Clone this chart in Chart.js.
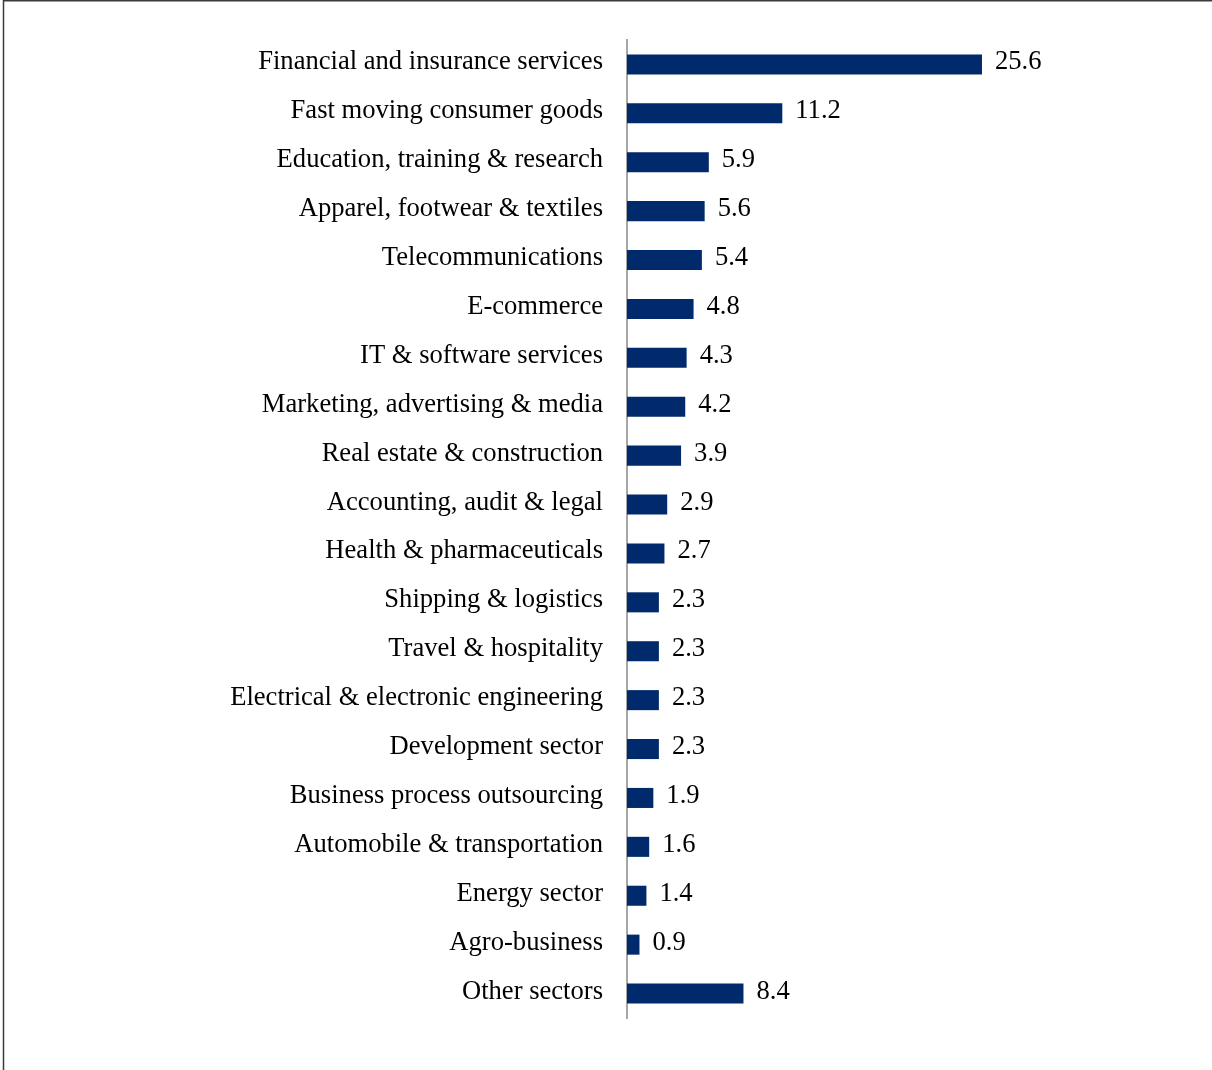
<!DOCTYPE html>
<html>
<head>
<meta charset="utf-8">
<script src="https://cdn.jsdelivr.net/npm/chart.js@4/dist/chart.umd.min.js"></script>
<style>
  body { margin: 0; background: #fff; }
  #wrap { width: 1212px; height: 1070px; position: relative; }
</style>
</head>
<body>
<div id="wrap"><canvas id="myChart" width="1212" height="1070"></canvas></div>
<script>
const sectors = [
    'Financial and insurance services',
    'Fast moving consumer goods',
    'Education, training & research',
    'Apparel, footwear & textiles',
    'Telecommunications',
    'E-commerce',
    'IT & software services',
    'Marketing, advertising & media',
    'Real estate & construction',
    'Accounting, audit & legal',
    'Health & pharmaceuticals',
    'Shipping & logistics',
    'Travel & hospitality',
    'Electrical & electronic engineering',
    'Development sector',
    'Business process outsourcing',
    'Automobile & transportation',
    'Energy sector',
    'Agro-business',
    'Other sectors'
];
const shares = [25.6, 11.2, 5.9, 5.6, 5.4, 4.8, 4.3, 4.2, 3.9, 2.9, 2.7, 2.3, 2.3, 2.3, 2.3, 1.9, 1.6, 1.4, 0.9, 8.4];

const serif = '"Liberation Serif", "Times New Roman", serif';
const fontSize = 26.6;

// frame lines along the top and left edge
const frame = {
    id: 'frame',
    beforeDraw(chart) {
        const c = chart.ctx;
        c.save();
        c.strokeStyle = '#3a3a3a';
        c.lineWidth = 1.5;
        c.beginPath();
        c.moveTo(3.5, 1070);
        c.lineTo(3.5, 0.75);
        c.lineTo(1212, 0.75);
        c.stroke();
        c.restore();
    }
};

// numbers to the right of each bar
const valueLabels = {
    id: 'valueLabels',
    afterDatasetsDraw(chart) {
        const c = chart.ctx;
        const meta = chart.getDatasetMeta(0);
        c.save();
        c.font = fontSize + 'px ' + serif;
        c.fillStyle = '#000';
        c.textAlign = 'left';
        c.textBaseline = 'middle';
        meta.data.forEach((bar, i) => {
            c.fillText(shares[i].toFixed(1), bar.x + 13, bar.y - 2);
        });
        c.restore();
    }
};

const ctx = document.getElementById('myChart').getContext('2d');
const myChart = new Chart(ctx, {
    type: 'bar',
    data: {
        labels: sectors,
        datasets: [{
            data: shares,
            backgroundColor: '#002a6b',
            barPercentage: 0.41,
            categoryPercentage: 1
        }]
    },
    options: {
        indexAxis: 'y',
        responsive: false,
        animation: false,
        layout: { padding: { top: 38, bottom: 52, left: 0, right: 169 } },
        plugins: {
            legend: { display: false },
            tooltip: { enabled: false }
        },
        scales: {
            x: {
                display: false,
                min: 0,
                max: 30
            },
            y: {
                afterFit(scale) { scale.width = 627; },
                grid: { display: false, drawTicks: false },
                border: { display: true, color: '#a6a6a6', width: 2 },
                ticks: {
                    padding: 24,
                    labelOffset: -2,
                    color: '#000',
                    font: { family: serif, size: fontSize }
                }
            }
        }
    },
    plugins: [frame, valueLabels]
});
</script>
</body>
</html>
